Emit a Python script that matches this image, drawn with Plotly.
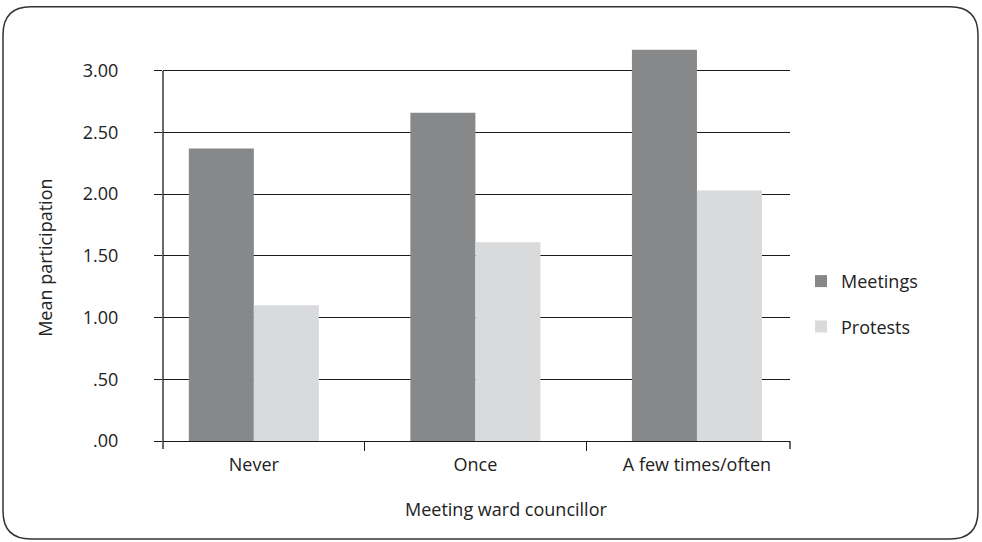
import plotly.graph_objects as go

categories = ["Never", "Once", "A few times/often"]
meetings = [2.37, 2.66, 3.17]
protests = [1.10, 1.61, 2.03]
y_ticks = [0, 0.5, 1.0, 1.5, 2.0, 2.5, 3.0]
y_ticktext = [".00", ".50", "1.00", "1.50", "2.00", "2.50", "3.00"]
x_title = "Meeting ward councillor"
y_title = "Mean participation"

FONT = "Open Sans, sans-serif"
INK = "#1a1a1a"
FS = 18

# plot area in pixels (top of range is 3.2, grid stops at 3.0)
L, R, B = 163, 790, 441
YMAX = 3.2
T = B - YMAX * (441 - 71) / 3.0


def px(x):
    return (x - L) / (R - L)


def py(y):
    return (B - y) / (B - T)


fig = go.Figure()
fig.add_trace(go.Bar(x=categories, y=meetings, name="Meetings",
                     marker_color="#878889", marker_line_width=0,
                     legendgroup="m"))
fig.add_trace(go.Bar(x=categories, y=protests, name="Protests",
                     marker_color="#d9dadb", marker_line_width=0,
                     legendgroup="p"))

# rounded frame around the whole chart
x0, x1, y0, y1, r = 3, 978, 7, 539, 28
pts = [("M", x0 + r, y0), ("L", x1 - r, y0), ("Q", x1, y0, x1, y0 + r),
       ("L", x1, y1 - r), ("Q", x1, y1, x1 - r, y1), ("L", x0 + r, y1),
       ("Q", x0, y1, x0, y1 - r), ("L", x0, y0 + r), ("Q", x0, y0, x0 + r, y0)]
path = ""
for p in pts:
    cmd, coords = p[0], p[1:]
    path += cmd + " " + " ".join(
        f"{px(coords[i]):.5f},{py(coords[i + 1]):.5f}" for i in range(0, len(coords), 2)) + " "
path += "Z"

shapes = [dict(type="path", path=path, xref="paper", yref="paper",
               line=dict(color="#333333", width=1.5), layer="below")]
# value axis line, only up to the top gridline
shapes.append(dict(type="line", xref="paper", yref="y", x0=0, x1=0,
                   y0=0, y1=y_ticks[-1], line=dict(color=INK, width=1.3)))
# end ticks of the category axis
for xe in (L, R):
    shapes.append(dict(type="line", xref="paper", yref="paper",
                       x0=px(xe), x1=px(xe), y0=py(B), y1=py(B + 8),
                       line=dict(color=INK, width=1.3)))

annotations = [
    dict(text=x_title, xref="paper", yref="paper", x=px(506), y=py(509),
         xanchor="center", yanchor="middle", showarrow=False),
    dict(text=y_title, xref="paper", yref="paper", x=px(45), y=py(258),
         xanchor="center", yanchor="middle", textangle=-90, showarrow=False),
]

fig.update_layout(
    width=982, height=542,
    margin=dict(l=L, r=982 - R, t=T, b=542 - B),
    paper_bgcolor="white", plot_bgcolor="white",
    font=dict(family=FONT, size=FS, color="#222222"),
    barmode="group", bargap=0.413, bargroupgap=0,
    showlegend=True,
    legend=dict(x=px(801), y=py(304), xanchor="left", yanchor="middle",
                traceorder="grouped", tracegroupgap=19,
                font=dict(size=FS)),
    shapes=shapes,
    annotations=annotations,
    xaxis=dict(range=[-0.41, 2.42], tickson="boundaries", ticks="outside",
               ticklen=9, tickcolor=INK, tickwidth=1.3,
               showline=True, linecolor=INK, linewidth=1.3,
               showgrid=False, tickfont=dict(size=FS), ticklabelstandoff=7),
    yaxis=dict(range=[0, YMAX], tickvals=y_ticks, ticktext=y_ticktext,
               ticks="outside", ticklen=8, tickcolor=INK, tickwidth=1.3,
               showline=False,
               showgrid=True, gridcolor=INK, gridwidth=1.2,
               zeroline=False, ticklabelstandoff=32, tickfont=dict(size=FS)),
)

fig.write_html("out.html", config={"displayModeBar": False},
               post_script="document.body.style.margin='0';")
